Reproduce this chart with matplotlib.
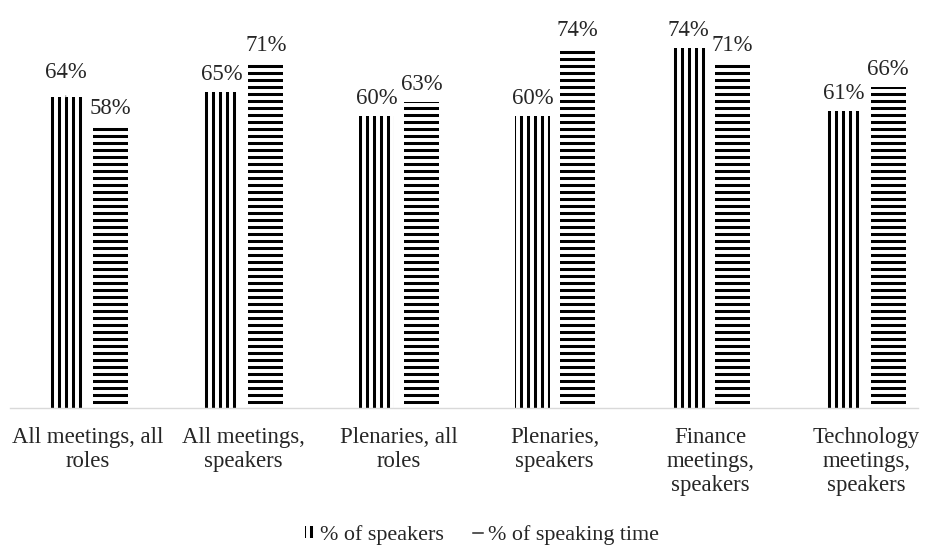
import numpy as np
import matplotlib.pyplot as plt
from matplotlib.patches import Patch
from matplotlib.lines import Line2D

categories = ["All meetings, all\nroles", "All meetings,\nspeakers", "Plenaries, all\nroles",
              "Plenaries,\nspeakers", "Finance\nmeetings,\nspeakers", "Technology\nmeetings,\nspeakers"]
pct_speakers = [64, 65, 60, 60, 74, 61]
pct_speaking_time = [58, 71, 63, 74, 71, 66]

plt.rcParams['font.family'] = ['Liberation Serif', 'DejaVu Serif']
plt.rcParams['hatch.linewidth'] = 2.6

DPI = 84
fig = plt.figure(figsize=(928 / DPI, 547 / DPI), dpi=DPI)
ax = fig.add_axes([10 / 928, 139 / 547, 908 / 928, 408 / 547])

x = np.arange(len(categories))
width = 0.225
offset = 0.143

bars1 = ax.bar(x - offset, pct_speakers, width, facecolor='white', edgecolor='black',
               linewidth=0, hatch='||', label='% of speakers')
bars2 = ax.bar(x + offset, pct_speaking_time, width, facecolor='white', edgecolor='black',
               linewidth=0, hatch='--', label='% of speaking time')

ax.set_xlim(-0.501, 5.334)
ax.set_ylim(0, 83.9)

for spine in ['top', 'right', 'left']:
    ax.spines[spine].set_visible(False)
ax.spines['bottom'].set_color('#d9d9d9')
ax.spines['bottom'].set_linewidth(1.2)
ax.set_yticks([])
ax.set_xticks(x)
ax.set_xticklabels(categories, fontsize=19.5, color='#262626', linespacing=1.2)
ax.tick_params(axis='x', length=0, pad=16)

# value labels
lbl_kw = dict(textcoords='offset points', ha='center', va='center', fontsize=19.5,
              color='#262626', annotation_clip=False)
for i, b in enumerate(bars1):
    h = b.get_height()
    if i == 0:
        ax.annotate(f"{h}%", (b.get_x() + b.get_width() / 2, h), xytext=(0, 21),
                    arrowprops=dict(arrowstyle='-', color='#a6a6a6', lw=1,
                                    shrinkA=9, shrinkB=0), **lbl_kw)
    else:
        ax.annotate(f"{h}%", (b.get_x() + b.get_width() / 2, h), xytext=(0, 15), **lbl_kw)
for b in bars2:
    h = b.get_height()
    ax.annotate(f"{h}%", (b.get_x() + b.get_width() / 2, h), xytext=(0, 15), **lbl_kw)

handles = [Patch(facecolor='white', edgecolor='black', linewidth=0, hatch='||'),
           Line2D([0], [0], color='#262626', lw=1.3)]
fig.legend(handles, ['% of speakers', '% of speaking time'], loc='center',
           bbox_to_anchor=(482 / 928, 12 / 547), ncol=2, frameon=False, fontsize=19,
           handlelength=0.45, handleheight=0.4, handletextpad=0.25, columnspacing=1.3,
           labelcolor='#262626')

fig.savefig('out.png', dpi=DPI)
